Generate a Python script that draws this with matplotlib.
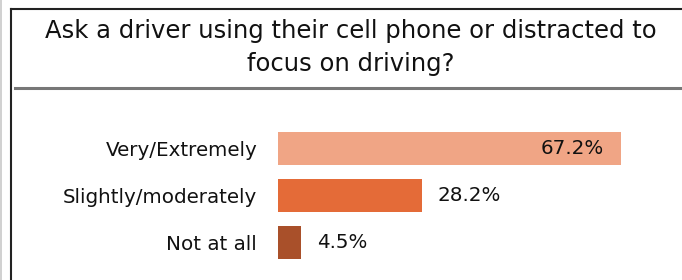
import matplotlib.pyplot as plt
from matplotlib.lines import Line2D

# dados
categorias = ['Very/Extremely', 'Slightly/moderately', 'Not at all']
valores = [67.2, 28.2, 4.5]
rotulos = ['67.2%', '28.2%', '4.5%']
cores = ['#F0A585', '#E46B38', '#A9502A']

titulo = 'Ask a driver using their cell phone or distracted to\nfocus on driving?'

W, H = 682, 280
fig = plt.figure(figsize=(W / 100, H / 100), dpi=100)
fig.patch.set_facecolor('white')

def px(x, y):
    # pixel (a partir do topo) -> coordenadas da figura
    return x / W, 1 - y / H

# moldura
fig.add_artist(Line2D([0.5 / W, 0.5 / W], [0, 1], color='#c8c8c8', lw=1.2))
x0, y0 = px(10.5, 8.5)
fig.add_artist(Line2D([x0, x0], [0, y0], color='#222222', lw=1.5))
fig.add_artist(Line2D([x0, 1], [y0, y0], color='#222222', lw=1.5))
xr, yr = px(15, 88)
fig.add_artist(Line2D([xr, 1], [yr, yr], color='#777777', lw=2.2))

tx, ty = px(351, 47.5)
fig.text(tx, ty, titulo, ha='center', va='center', fontsize=17.5,
         family='DejaVu Sans', color='#111111', linespacing=1.45)

# eixo das barras
escala = 5.104  # px por ponto percentual
xmax = 70
esq, topo, base = 278, 125, 266
ax = fig.add_axes([esq / W, 1 - base / H, xmax * escala / W, (base - topo) / H])
pos = list(range(len(categorias)))
ax.barh(pos, valores, height=0.7, color=cores)
ax.set_xlim(0, xmax)
ax.set_ylim(len(categorias) - 0.5, -0.5)
ax.set_yticks(pos)
ax.set_yticklabels(categorias, fontsize=14.3, color='#111111')
ax.tick_params(axis='y', length=0, pad=15)
ax.set_xticks([])
for s in ax.spines.values():
    s.set_visible(False)

for i, (v, r) in enumerate(zip(valores, rotulos)):
    if v > 50:
        ax.text(v - 3.3, i, r, ha='right', va='center', fontsize=14.3, color='#111111')
    else:
        ax.text(v + 3.1, i, r, ha='left', va='center', fontsize=14.3, color='#111111')

fig.savefig('out.png', dpi=100)
